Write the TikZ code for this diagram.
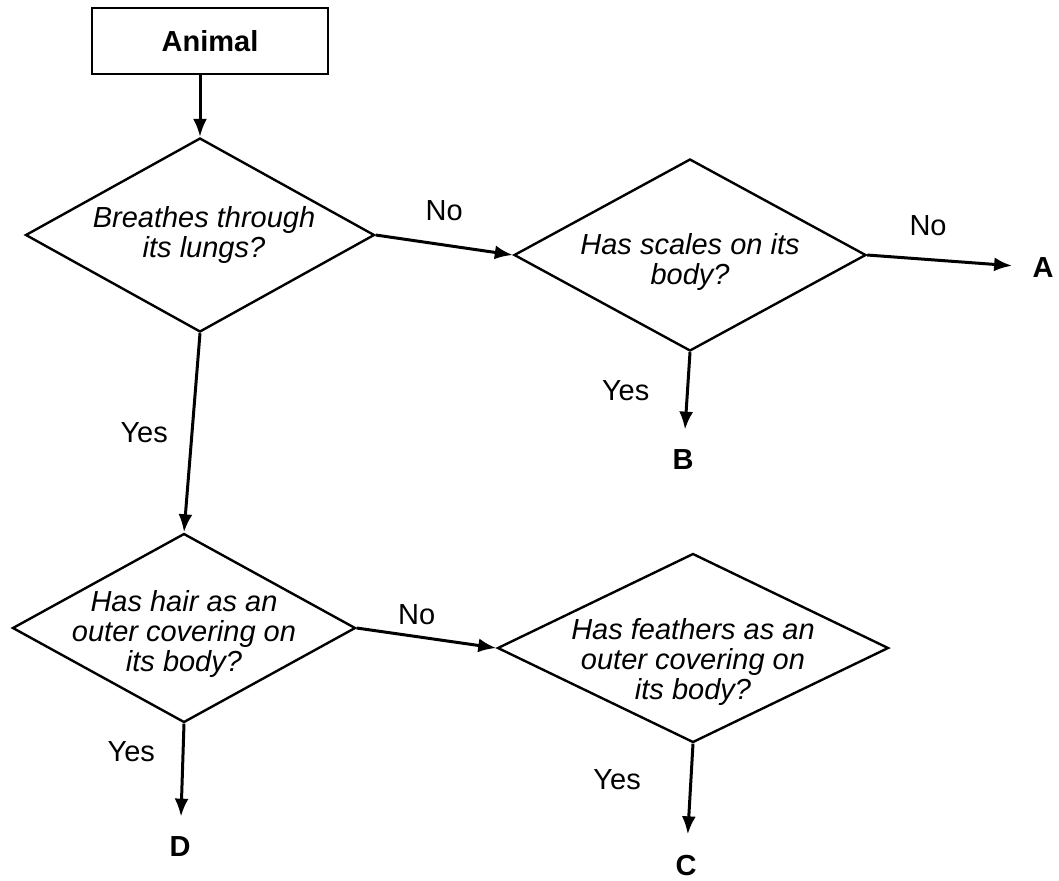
\documentclass[tikz,border=0pt]{standalone}
\usepackage{fontspec}
\setmainfont{Liberation Sans}
\usetikzlibrary{shapes.geometric,arrows.meta}
\newcommand{\flowfont}{\fontsize{14.5}{15}\selectfont}
\tikzset{
  box/.style={draw,line width=1.2pt,minimum width=118pt,minimum height=33pt,inner sep=0pt,font=\flowfont\bfseries},
  decision/.style={draw,diamond,line width=1.2pt,inner sep=0pt},
  qtext/.style={align=center,font=\flowfont\itshape},
  leaf/.style={inner sep=10pt,font=\flowfont\bfseries},
  arr/.style={line width=1.5pt,-{Latex[length=9pt,width=7pt]}},
}
\begin{document}
\begin{tikzpicture}[x=0.5pt,y=-0.5pt,every node/.append style={font=\flowfont}]
        \useasboundingbox (0,0) rectangle (1059,880);
        \node [box] (animal) at (210,41) {Animal};
        \node [decision,minimum width=174.5pt,minimum height=97pt,
          label={[qtext,xshift=2pt]center:Breathes through\\its lungs?}] (q1) at (200,235) {};
        \node [decision,minimum width=176pt,minimum height=96pt,
          label={[qtext,yshift=-3.5pt]center:Has scales on its\\body?}] (q2) at (690,255) {};
        \node [decision,minimum width=171.5pt,minimum height=94.5pt,
          label={[qtext,yshift=-3pt]center:Has hair as an\\outer covering on\\its body?}] (q3) at (184,628) {};
        \node [decision,minimum width=195.5pt,minimum height=94.5pt,
          label={[qtext,yshift=-7pt]center:Has feathers as an\\outer covering on\\its body?}] (q4) at (693,648) {};
        \node [leaf] (a) at (1043,268) {A};
        \node [leaf] (b) at (683,460) {B};
        \node [leaf] (c) at (686,865) {C};
        \node [leaf] (d) at (180,847) {D};
        % connectors
        \draw [arr] (animal.south -| q1.north) -- (q1.north);
        \draw [arr] (q1.east) -- node [above=8pt] (no1) {No} (q2.west);
        \draw [arr] (q2.east) -- node [pos=0.42,above=8pt] (no2) {No} (a);
        \draw [arr] (q2.south) -- node [left=15pt] (yes2) {Yes} (b);
        \draw [arr] (q1.south) -- node [left=8pt] (yes1) {Yes} (q3.north);
        \draw [arr] (q3.east) -- node [pos=0.43,above=2pt] (no3) {No} (q4.west);
        \draw [arr] (q3.south) -- node [pos=0.3,left=10pt] (yes3) {Yes} (d);
        \draw [arr] (q4.south) -- node [pos=0.4,left=21pt] (yes4) {Yes} (c);
      \end{tikzpicture}
\end{document}
